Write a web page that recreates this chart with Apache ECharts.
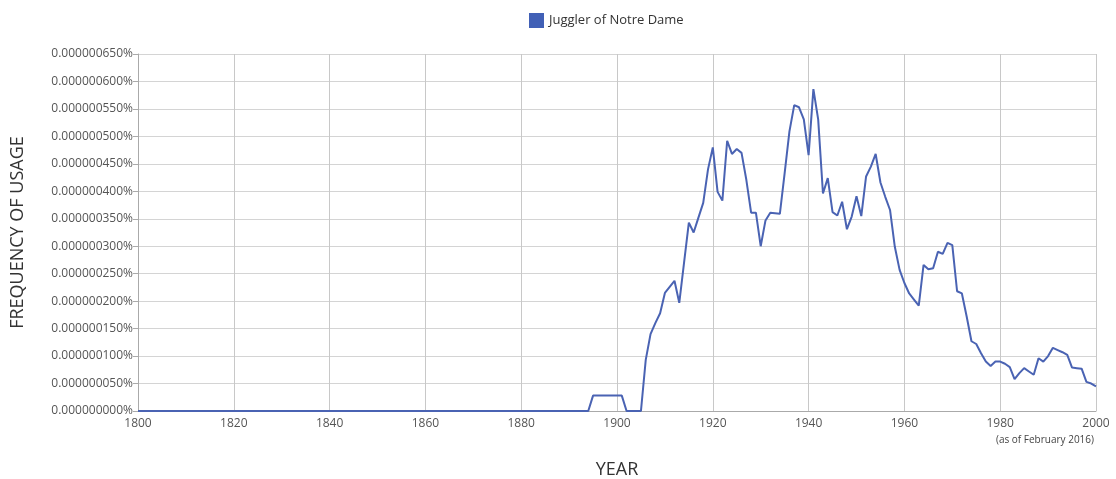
<!DOCTYPE html>
<html>
<head>
<meta charset="utf-8">
<script src="https://cdn.jsdelivr.net/npm/echarts@6/dist/echarts.min.js"></script>
<style>
html,body{margin:0;padding:0;background:#fff;}
#chart{width:1116px;height:479px;}
</style>
</head>
<body>
<div id="chart"></div>
<script>
// Series name
var seriesName = 'Juggler of Notre Dame';
// Years with data points (1800 start, then yearly from 1894)
var firstYear = 1800;
var yearlyStart = 1894;
// Frequency values in units of 0.000000001 % (one value per year from 1894 to 2000)
var values = [
  0,                              // 1894
  28, 28, 28, 28, 28, 28, 28,     // 1895-1901
  0, 0, 0, 0,                     // 1902-1905
  93, 140, 160, 178, 215, 226, 237, 197, 270, 343,  // 1906-1915
  325, 352, 379, 440, 480, 399, 383, 492, 468, 477, // 1916-1925
  470, 421, 361, 361, 300, 347, 361, 360, 359, 433, // 1926-1935
  509, 557, 553, 531, 466, 586, 531, 396, 424, 362, // 1936-1945
  356, 381, 331, 354, 391, 355, 427, 445, 468, 416, // 1946-1955
  390, 366, 299, 257, 233, 214, 203, 192, 266, 258, // 1956-1965
  260, 290, 286, 306, 302, 218, 214, 172, 127, 122, // 1966-1975
  105, 90, 82, 90, 90, 86, 80, 58, 69, 78,          // 1976-1985
  72, 66, 96, 90, 100, 115, 111, 107, 102, 79,      // 1986-1995
  78, 77, 53, 50, 45                                // 1996-2000
];
var xTicks = [1800, 1820, 1840, 1860, 1880, 1900, 1920, 1940, 1960, 1980, 2000];
var yMax = 650, yStep = 50;

var data = [[firstYear, 0]];
for (var i = 0; i < values.length; i++) data.push([yearlyStart + i, values[i]]);

var chart = echarts.init(document.getElementById('chart'));
var font = "'Open Sans', 'DejaVu Sans', sans-serif";
chart.setOption({
  animation: false,
  textStyle: {fontFamily: font},
  legend: {
    top: 8, left: 524,
    icon: 'rect', itemWidth: 15, itemHeight: 15, itemGap: 8,
    textStyle: {fontSize: 13, color: '#333', fontFamily: font},
    data: [seriesName]
  },
  grid: {left: 138, right: 20, top: 54, bottom: 68, containLabel: false, outerBoundsMode: 'none'},
  xAxis: {
    type: 'value', min: xTicks[0], max: xTicks[xTicks.length - 1], interval: 20,
    name: 'YEAR', nameLocation: 'middle', nameGap: 50,
    nameTextStyle: {fontSize: 18, color: '#333', fontFamily: font},
    axisLine: {show: true, lineStyle: {color: '#aaa'}},
    axisTick: {show: false},
    axisLabel: {fontSize: 12, color: '#555', margin: 7, formatter: function (v) { return String(v); }},
    splitLine: {show: true, lineStyle: {color: '#c8c8c8', width: 1}}
  },
  yAxis: {
    type: 'value', min: 0, max: yMax, interval: yStep,
    name: 'FREQUENCY OF USAGE', nameLocation: 'middle', nameGap: 111,
    nameTextStyle: {fontSize: 18, color: '#333', fontFamily: font},
    axisLine: {show: true, lineStyle: {color: '#aaa'}},
    axisTick: {show: true, length: 5, lineStyle: {color: '#aaa'}},
    axisLabel: {fontSize: 12, color: '#555', margin: 5, formatter: function (v) { return (v * 1e-9).toFixed(9) + '%'; }},
    splitLine: {show: true, lineStyle: {color: '#d4d4d4', width: 1}}
  },
  graphic: [{
    type: 'text', right: 22, top: 435,
    style: {text: '(as of February 2016)', font: "10px 'Open Sans', sans-serif", fill: '#444'}
  }],
  series: [{
    name: seriesName, type: 'line', data: data,
    showSymbol: false, symbol: 'none',
    lineStyle: {color: '#4a63b3', width: 2},
    itemStyle: {color: '#4160b6'}
  }]
});
</script>
</body>
</html>
